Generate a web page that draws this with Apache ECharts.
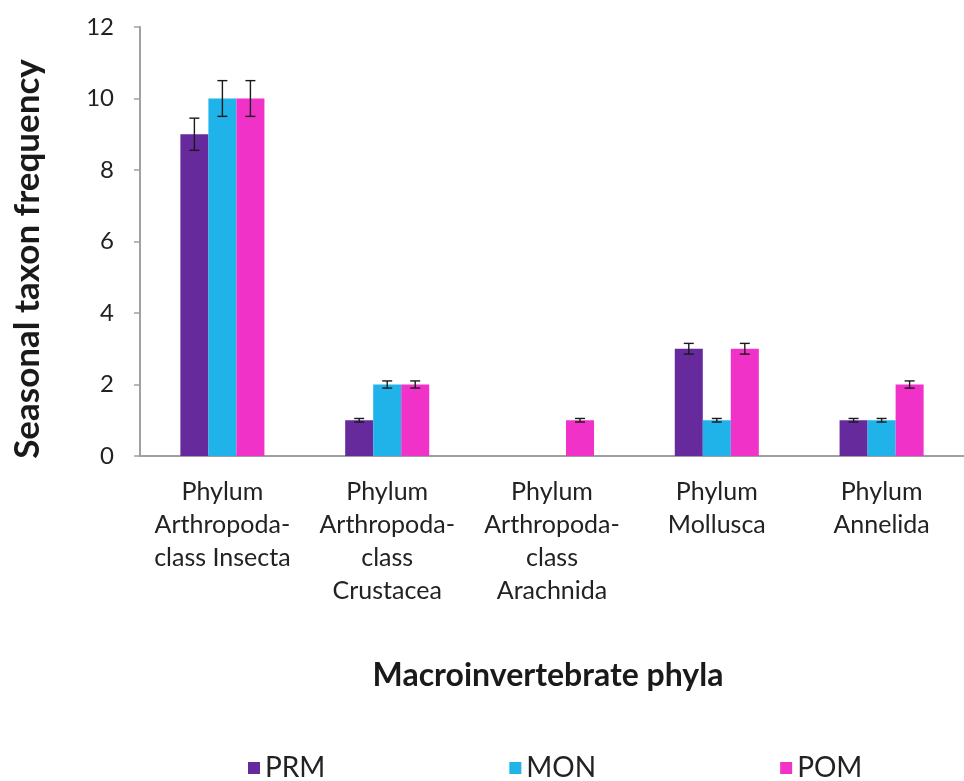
<!DOCTYPE html>
<html>
<head>
<meta charset="utf-8">
<script src="https://cdn.jsdelivr.net/npm/echarts@6/dist/echarts.min.js"></script>
<style>html,body{margin:0;padding:0;background:#fff;}#c{width:964px;height:781px;}</style>
</head>
<body>
<div id="c"></div>
<script>
const categories = [
  "Phylum\nArthropoda-\nclass Insecta",
  "Phylum\nArthropoda-\nclass\nCrustacea",
  "Phylum\nArthropoda-\nclass\nArachnida",
  "Phylum\nMollusca",
  "Phylum\nAnnelida"
];
const seriesNames = ["PRM", "MON", "POM"];
const prm = [9, 1, 0, 3, 1];
const mon = [10, 2, 0, 1, 1];
const pom = [10, 2, 1, 3, 2];
const prmErr = [0.45, 0.05, 0, 0.15, 0.05];
const monErr = [0.5, 0.1, 0, 0.05, 0.05];
const pomErr = [0.5, 0.1, 0.05, 0.15, 0.1];
const yTicks = [0, 2, 4, 6, 8, 10, 12];
const xTitle = "Macroinvertebrate phyla";
const yTitle = "Seasonal taxon frequency";

const colors = ["#662a9c", "#1fb3ea", "#f032c9"];
const FONT = "Lato";
const CAT_GAP = 0.49;
const values = [prm, mon, pom];
const errs = [prmErr, monErr, pomErr];

const chart = echarts.init(document.getElementById('c'), null, {renderer: 'canvas'});

function errSeries(si) {
  const data = values[si].map((v, i) => [i, v, errs[si][i]]);
  return {
    type: 'custom',
    name: seriesNames[si] + ' err',
    data: data.filter(d => d[1] > 0),
    z: 10,
    silent: true,
    renderItem: function (params, api) {
      const ci = api.value(0), v = api.value(1), e = api.value(2);
      const band = api.size([1, 0])[0];
      const bw = band * (1 - CAT_GAP) / 3;
      const center = api.coord([ci, v]);
      const x = center[0] + (si - 1) * bw;
      const top = api.coord([ci, v + e])[1];
      const bot = api.coord([ci, v - e])[1];
      const cap = 5;
      const st = {stroke: '#1a1a1a', lineWidth: 1.4};
      return {
        type: 'group',
        children: [
          {type: 'line', shape: {x1: x, y1: top, x2: x, y2: bot}, style: st},
          {type: 'line', shape: {x1: x - cap, y1: top, x2: x + cap, y2: top}, style: st},
          {type: 'line', shape: {x1: x - cap, y1: bot, x2: x + cap, y2: bot}, style: st}
        ]
      };
    }
  };
}

const option = {
  backgroundColor: '#ffffff',
  animation: false,
  textStyle: {fontFamily: FONT},
  grid: {left: 140, top: 27, width: 832, height: 429, containLabel: false},
  graphic: [
    {type: 'text', x: 548, y: 676,
     style: {text: xTitle, fontFamily: FONT, fontSize: 32, fontWeight: 'bold', fill: '#1a1a1a', align: 'center', verticalAlign: 'middle'}},
    {type: 'text', x: 28, y: 259, rotation: Math.PI / 2,
     style: {text: yTitle, fontFamily: FONT, fontSize: 35, fontWeight: 'bold', fill: '#1a1a1a', align: 'center', verticalAlign: 'middle'}}
  ],
  legend: {
    data: seriesNames,
    left: 248,
    top: 754,
    padding: 0,
    itemWidth: 12,
    itemHeight: 12,
    itemGap: 184,
    icon: 'rect',
    textStyle: {fontFamily: FONT, fontSize: 28, color: '#222'}
  },
  xAxis: {
    type: 'category',
    data: categories,
    axisLine: {lineStyle: {color: '#a0a0a0', width: 2}},
    axisTick: {show: false},
    axisLabel: {interval: 0, fontFamily: FONT, fontSize: 25, color: '#222', lineHeight: 33, margin: 19}
  },
  yAxis: {
    type: 'value',
    min: 0,
    max: 12,
    interval: 2,
    axisLine: {show: true, lineStyle: {color: '#a0a0a0', width: 2}},
    axisTick: {show: true, inside: false, length: 6, lineStyle: {color: '#a0a0a0', width: 1.5}},
    splitLine: {show: false},
    axisLabel: {
      fontFamily: FONT, fontSize: 24, color: '#222', margin: 26,
      formatter: v => yTicks.includes(v) ? String(v) : ''
    }
  },
  series: [
    ...seriesNames.map((n, si) => ({
      type: 'bar',
      name: n,
      data: values[si],
      barGap: '0%',
      barCategoryGap: (CAT_GAP * 100) + '%',
      itemStyle: {color: colors[si]}
    })),
    errSeries(0), errSeries(1), errSeries(2)
  ]
};
chart.setOption(option);
</script>
</body>
</html>
